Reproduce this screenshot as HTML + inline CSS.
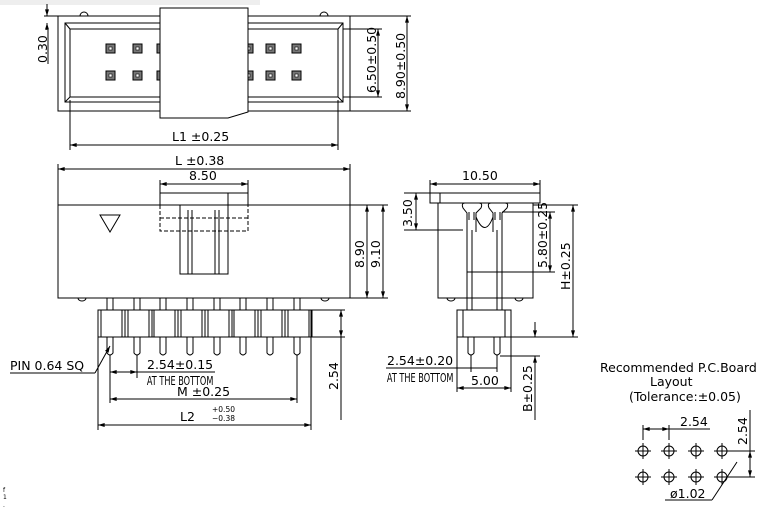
<!DOCTYPE html>
<html><head><meta charset="utf-8"><style>
html,body{margin:0;padding:0;background:#fff}
svg{display:block}
text{font-family:"DejaVu Sans","Liberation Sans",sans-serif;fill:#000}
</style></head><body>
<svg width="768" height="515" viewBox="0 0 768 515" xmlns="http://www.w3.org/2000/svg">
<defs>
<marker id="a" viewBox="0 0 10 6" refX="10" refY="3" markerWidth="8" markerHeight="4" orient="auto-start-reverse" markerUnits="userSpaceOnUse"><path d="M0,0 L10,3 L0,6z" fill="#000"/></marker>
<g id="sq"><rect x="0" y="0" width="9" height="9" fill="#777" stroke="#000" stroke-width="1"/><rect x="3" y="3" width="3" height="3" fill="#fff" stroke="#000" stroke-width="0.6"/></g>
</defs>
<rect x="0" y="0" width="260" height="5" fill="#eee"/>
<g stroke="#000" stroke-width="1" fill="none">
<!-- TOP VIEW -->
<rect x="58" y="16" width="292" height="95"/>
<rect x="65" y="23" width="278" height="79"/>
<rect x="70" y="29" width="268" height="68"/>
<line x1="65" y1="23" x2="70" y2="29"/><line x1="343" y1="23" x2="338" y2="29"/>
<line x1="65" y1="102" x2="70" y2="97"/><line x1="343" y1="102" x2="338" y2="97"/>
<path d="M80,16 a4,4 0 0 1 8,0 M320,16 a4,4 0 0 1 8,0"/>
<use href="#sq" x="106" y="44"/><use href="#sq" x="133" y="44"/><use href="#sq" x="157" y="44"/>
<use href="#sq" x="244" y="44"/><use href="#sq" x="266" y="44"/><use href="#sq" x="292" y="44"/>
<use href="#sq" x="106" y="71"/><use href="#sq" x="133" y="71"/><use href="#sq" x="157" y="71"/>
<use href="#sq" x="244" y="71"/><use href="#sq" x="266" y="71"/><use href="#sq" x="292" y="71"/>
<path d="M160,8 L248,8 L248,112 L228,118 L160,118 Z" fill="#fff"/>
<!-- 0.30 -->
<line x1="47" y1="4" x2="47" y2="16" marker-end="url(#a)"/>
<line x1="47" y1="30" x2="47" y2="23" marker-end="url(#a)"/>
<line x1="44" y1="16" x2="80" y2="16"/>
<line x1="48" y1="64" x2="48" y2="30"/>
<!-- 6.50 / 8.90 -->
<line x1="343" y1="29" x2="382" y2="29"/><line x1="343" y1="97" x2="382" y2="97"/>
<line x1="378" y1="29" x2="378" y2="97" marker-start="url(#a)" marker-end="url(#a)"/>
<line x1="350" y1="16" x2="411" y2="16"/><line x1="350" y1="111" x2="411" y2="111"/>
<line x1="407" y1="16" x2="407" y2="111" marker-start="url(#a)" marker-end="url(#a)"/>
<!-- L1 -->
<line x1="70" y1="100" x2="70" y2="150"/><line x1="338" y1="100" x2="338" y2="150"/>
<line x1="70" y1="145" x2="338" y2="145" marker-start="url(#a)" marker-end="url(#a)"/>

<!-- FRONT VIEW -->
<line x1="58" y1="164" x2="58" y2="205"/><line x1="350" y1="164" x2="350" y2="205"/>
<line x1="58" y1="169" x2="350" y2="169" marker-start="url(#a)" marker-end="url(#a)"/>
<line x1="160" y1="180" x2="160" y2="193"/><line x1="248" y1="180" x2="248" y2="193"/>
<line x1="160" y1="184" x2="248" y2="184" marker-start="url(#a)" marker-end="url(#a)"/>
<rect x="58" y="205" width="292" height="93"/>
<rect x="160" y="193" width="88" height="12"/>
<line x1="228" y1="193" x2="228" y2="205"/>
<path d="M160,205 V231 H248 V205 M160,218 H248" stroke-dasharray="4,2"/>
<rect x="180" y="205" width="48" height="69"/>
<line x1="188" y1="210" x2="188" y2="274"/><line x1="192" y1="210" x2="192" y2="274"/>
<line x1="215" y1="210" x2="215" y2="274"/><line x1="219" y1="210" x2="219" y2="274"/>
<path d="M100,215 L120,215 L110,232 Z"/>
<path d="M78,298 a4,3 0 0 0 8,0 M321,298 a4,3 0 0 0 8,0"/>
<line x1="350" y1="205" x2="388" y2="205"/><line x1="350" y1="298" x2="388" y2="298"/>
<line x1="367" y1="205" x2="367" y2="298" marker-start="url(#a)" marker-end="url(#a)"/>
<line x1="383" y1="205" x2="383" y2="298" marker-start="url(#a)" marker-end="url(#a)"/>
<!-- pins and lower housing -->
<rect x="98" y="310" width="213" height="27"/>
<g id="pins">
<path d="M107,298 V310 M113,298 V310 M107,337 V353 q3,4 6,0 V337"/>
<line x1="101" y1="310" x2="101" y2="337"/><line x1="122" y1="310" x2="122" y2="337"/><line x1="125" y1="310" x2="125" y2="337"/>
</g>
<use href="#pins" x="27"/><use href="#pins" x="53"/><use href="#pins" x="80"/><use href="#pins" x="107"/><use href="#pins" x="133"/><use href="#pins" x="160"/><use href="#pins" x="187"/>
<line x1="311" y1="310" x2="345" y2="310"/><line x1="311" y1="337" x2="345" y2="337"/>
<line x1="341" y1="310" x2="341" y2="337" marker-start="url(#a)" marker-end="url(#a)"/>
<line x1="10" y1="373" x2="95" y2="373"/><line x1="95" y1="373" x2="110" y2="346" marker-end="url(#a)"/>
<line x1="110" y1="355" x2="110" y2="403"/><line x1="297" y1="355" x2="297" y2="403"/>
<line x1="137" y1="355" x2="137" y2="378"/>
<line x1="110" y1="372" x2="137" y2="372" marker-start="url(#a)" marker-end="url(#a)"/>
<line x1="137" y1="372" x2="215" y2="372"/>
<line x1="110" y1="399" x2="297" y2="399" marker-start="url(#a)" marker-end="url(#a)"/>
<line x1="98" y1="337" x2="98" y2="430"/><line x1="311" y1="337" x2="311" y2="430"/>
<line x1="98" y1="425" x2="311" y2="425" marker-start="url(#a)" marker-end="url(#a)"/>
<line x1="341" y1="337" x2="341" y2="420"/>

<!-- SIDE VIEW -->
<line x1="430" y1="180" x2="430" y2="193"/><line x1="540" y1="180" x2="540" y2="193"/>
<line x1="430" y1="184" x2="540" y2="184" marker-start="url(#a)" marker-end="url(#a)"/>
<rect x="430" y="193" width="110" height="10"/>
<line x1="440" y1="193" x2="440" y2="203"/>
<rect x="438" y="203" width="95" height="95"/>
<!-- latches -->
<g id="lt">
<path d="M465,203 Q461,203 463,208 L467,213 V232 M479,203 Q483,203 481,208 L476,213 V232"/>
<path d="M469,212 V220 M474,212 V220"/>
</g>
<use href="#lt" x="26"/>
<path d="M476,217 Q485,238 493,217"/>
<path d="M467,230 V310 M472,230 V310 M497,230 V310 M502,230 V310 M467,272 H502"/>
<path d="M447,298 a4,3 0 0 0 8,0 M515,298 a4,3 0 0 0 8,0"/>
<rect x="457" y="310" width="54" height="27"/>
<line x1="463" y1="310" x2="463" y2="337"/><line x1="505" y1="310" x2="505" y2="337"/>
<path d="M468,337 V353 q3,4 6,0 V337 M494,337 V353 q3,4 6,0 V337"/>
<line x1="404" y1="193" x2="430" y2="193"/><line x1="404" y1="230" x2="463" y2="230"/>
<line x1="416" y1="193" x2="416" y2="230" marker-start="url(#a)" marker-end="url(#a)"/>
<line x1="502" y1="212" x2="555" y2="212"/><line x1="502" y1="272" x2="555" y2="272"/>
<line x1="550" y1="212" x2="550" y2="272" marker-start="url(#a)" marker-end="url(#a)"/>
<line x1="533" y1="205" x2="578" y2="205"/><line x1="511" y1="337" x2="578" y2="337"/>
<line x1="573" y1="205" x2="573" y2="337" marker-start="url(#a)" marker-end="url(#a)"/>
<line x1="500" y1="356" x2="540" y2="356"/>
<line x1="535" y1="322" x2="535" y2="337" marker-end="url(#a)"/>
<line x1="535" y1="372" x2="535" y2="356" marker-end="url(#a)"/>
<line x1="535" y1="372" x2="535" y2="420"/>
<line x1="386" y1="368" x2="455" y2="368"/>
<line x1="471" y1="355" x2="471" y2="372"/><line x1="497" y1="355" x2="497" y2="372"/>
<line x1="455" y1="368" x2="497" y2="368"/>
<line x1="457" y1="337" x2="457" y2="392"/><line x1="511" y1="337" x2="511" y2="392"/>
<line x1="457" y1="388" x2="511" y2="388" marker-start="url(#a)" marker-end="url(#a)"/>

<!-- PCB -->
<g id="h"><circle cx="643" cy="451" r="5"/><line x1="635" y1="451" x2="651" y2="451"/><line x1="643" y1="443" x2="643" y2="459"/></g>
<use href="#h" x="26"/><use href="#h" x="53"/><use href="#h" x="79"/>
<use href="#h" y="26"/><use href="#h" x="26" y="26"/><use href="#h" x="53" y="26"/><use href="#h" x="79" y="26"/>
<line x1="643" y1="425" x2="643" y2="440"/><line x1="669" y1="425" x2="669" y2="440"/>
<line x1="643" y1="429" x2="669" y2="429" marker-start="url(#a)" marker-end="url(#a)"/>
<line x1="669" y1="429" x2="710" y2="429"/>
<line x1="730" y1="451" x2="755" y2="451"/><line x1="728" y1="477" x2="755" y2="477"/>
<line x1="750" y1="410" x2="750" y2="451"/>
<line x1="750" y1="451" x2="750" y2="477" marker-start="url(#a)" marker-end="url(#a)"/>
<line x1="665" y1="500" x2="712" y2="500"/><line x1="712" y1="500" x2="737" y2="462"/>
</g>
<g font-size="12.5">
<text transform="translate(47,63) rotate(-90)">0.30</text>
<text transform="translate(376,93) rotate(-90)">6.50±0.50</text>
<text transform="translate(405,99) rotate(-90)">8.90±0.50</text>
<text x="172" y="141">L1  ±0.25</text>
<text x="175" y="165">L  ±0.38</text>
<text x="189" y="180">8.50</text>
<text transform="translate(364,268) rotate(-90)">8.90</text>
<text transform="translate(380,268) rotate(-90)">9.10</text>
<text x="10" y="370">PIN  0.64  SQ</text>
<text x="147" y="369">2.54±0.15</text>
<text x="177" y="396">M  ±0.25</text>
<text x="180" y="421">L2</text>
<text transform="translate(338,390) rotate(-90)">2.54</text>
<text x="462" y="180">10.50</text>
<text transform="translate(412,227) rotate(-90)">3.50</text>
<text transform="translate(547,268) rotate(-90)">5.80±0.25</text>
<text transform="translate(570,290) rotate(-90)">H±0.25</text>
<text transform="translate(532,412) rotate(-90)">B±0.25</text>
<text x="387" y="365">2.54±0.20</text>
<text x="471" y="385">5.00</text>
<text x="600" y="372">Recommended  P.C.Board</text>
<text x="650" y="386">Layout</text>
<text x="629" y="401">(Tolerance:±0.05)</text>
<text x="680" y="426">2.54</text>
<text transform="translate(747,445) rotate(-90)">2.54</text>
<text x="670" y="498">ø1.02</text>
</g>
<g font-size="7.5">
<text x="212" y="412">+0.50</text><text x="212" y="421">−0.38</text>
</g>
<g font-size="12" transform="scale(0.68,1)">
<text x="216" y="385">AT THE BOTTOM</text>
<text x="569" y="382">AT THE BOTTOM</text>
</g>
<text x="3" y="492" font-size="6">f</text><text x="3" y="499" font-size="6">1</text><text x="3" y="507" font-size="6">.</text>
</svg>
</body></html>
